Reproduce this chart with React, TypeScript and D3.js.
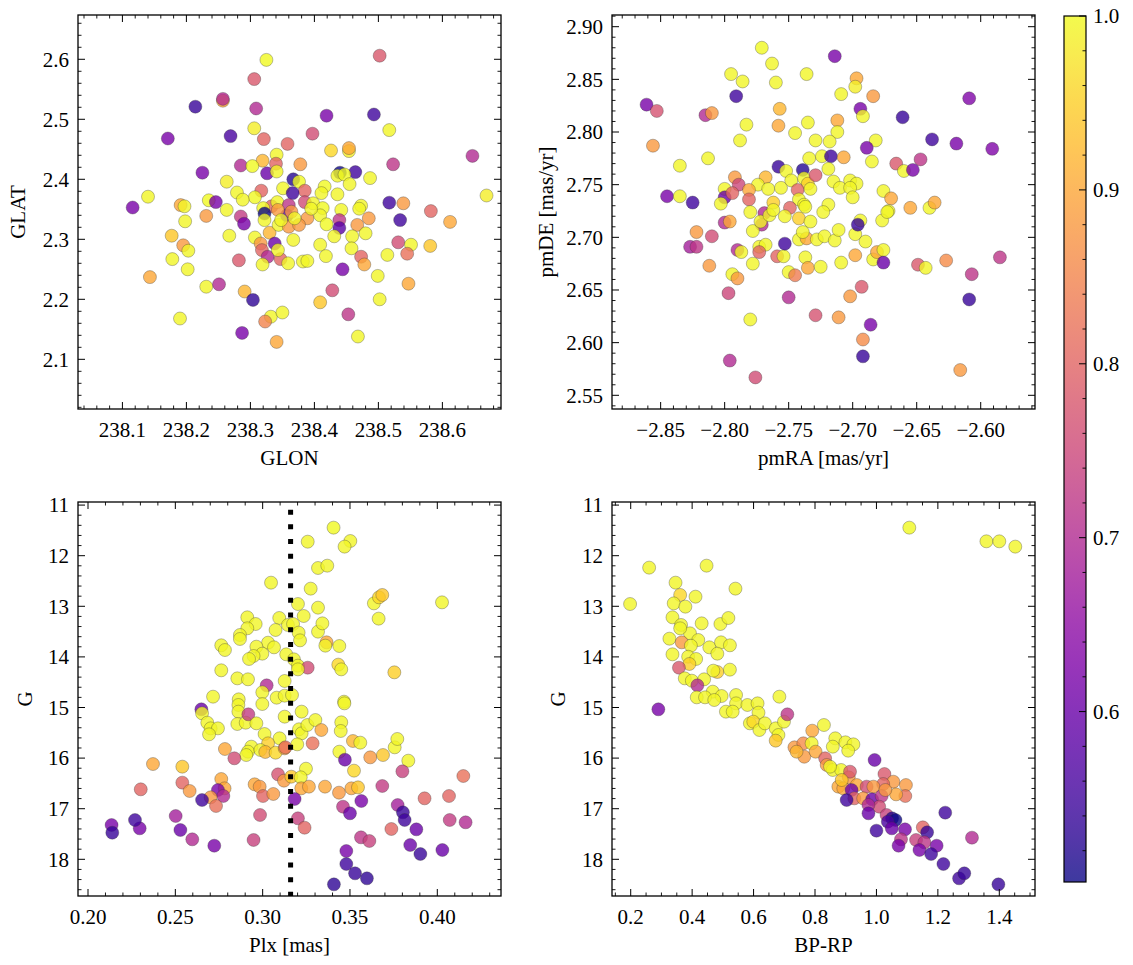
import React from 'react';
import * as d3 from 'd3';

// ---------- colour scale (membership probability) ----------
const VMIN = 0.502;
const VMAX = 1.0;
const cbTicks = [0.6, 0.7, 0.8, 0.9, 1.0];

// ---------- Panel 1: GLON vs GLAT ----------
const glon = [
  238.325, 238.502, 238.306, 238.257, 238.257, 238.214, 238.309, 238.419, 238.493, 238.517,
  238.306, 238.171, 238.269, 238.321, 238.397, 238.358, 238.426, 238.454, 238.454, 238.647,
  238.523, 238.341, 238.319, 238.340, 238.378, 238.285, 238.303, 238.326, 238.341, 238.225,
  238.440, 238.464, 238.436, 238.447, 238.487, 238.263, 238.367, 238.376, 238.455, 238.416,
  238.279, 238.317, 238.351, 238.385, 238.366, 238.411, 238.140, 238.307, 238.436, 238.669,
  238.288, 238.235, 238.246, 238.385, 238.517, 238.539, 238.116, 238.191, 238.197, 238.333,
  238.342, 238.360, 238.398, 238.413, 238.473, 238.582, 238.263, 238.442, 238.320,
  238.231, 238.198, 238.285, 238.290, 238.322, 238.357, 238.343, 238.364, 238.389, 238.409,
  238.419, 238.439, 238.439, 238.467, 238.485, 238.470, 238.534, 238.612, 238.177, 238.195,
  238.203, 238.178, 238.202, 238.143, 238.231, 238.251, 238.267, 238.307, 238.330, 238.344,
  238.360, 238.376, 238.367, 238.316, 238.338, 238.318, 238.327, 238.347, 238.343, 238.359,
  238.319, 238.282, 238.382, 238.389, 238.409, 238.418, 238.431, 238.459, 238.480, 238.458,
  238.473, 238.478, 238.514, 238.531, 238.551, 238.545, 238.581, 238.444, 238.499, 238.547,
  238.291, 238.304, 238.428, 238.502, 238.409, 238.190, 238.332, 238.350, 238.323, 238.453,
  238.287, 238.468, 238.341, 238.322, 238.395, 238.369, 238.348,
];
const glat = [
  2.599, 2.606, 2.567, 2.531, 2.534, 2.521, 2.518, 2.506, 2.508, 2.482,
  2.485, 2.468, 2.472, 2.467, 2.476, 2.459, 2.448, 2.447, 2.452, 2.439,
  2.425, 2.441, 2.431, 2.426, 2.425, 2.423, 2.422, 2.410, 2.413, 2.411,
  2.411, 2.412, 2.406, 2.408, 2.402, 2.396, 2.400, 2.396, 2.392, 2.388,
  2.378, 2.381, 2.385, 2.381, 2.377, 2.377, 2.371, 2.370, 2.375, 2.373,
  2.366, 2.365, 2.362, 2.362, 2.361, 2.360, 2.353, 2.357, 2.355, 2.355,
  2.362, 2.357, 2.360, 2.352, 2.356, 2.347, 2.349, 2.349, 2.352,
  2.339, 2.330, 2.338, 2.326, 2.343, 2.340, 2.349, 2.346, 2.335, 2.340,
  2.325, 2.332, 2.319, 2.324, 2.335, 2.351, 2.332, 2.329, 2.306, 2.290,
  2.281, 2.267, 2.250, 2.237, 2.221, 2.225, 2.306, 2.303, 2.311, 2.324,
  2.321, 2.324, 2.299, 2.293, 2.293, 2.282, 2.271, 2.267, 2.282, 2.260,
  2.258, 2.265, 2.263, 2.264, 2.291, 2.272, 2.305, 2.305, 2.310, 2.285,
  2.271, 2.258, 2.274, 2.295, 2.291, 2.276, 2.289, 2.250, 2.239, 2.226,
  2.213, 2.199, 2.215, 2.200, 2.195, 2.168, 2.171, 2.178, 2.163, 2.175,
  2.144, 2.138, 2.129, 2.332, 2.351, 2.335, 2.332,
];
const prob1 = [
  1.0, 0.78, 0.78, 0.90, 0.70, 0.54, 0.70, 0.62, 0.55, 0.995,
  0.985, 0.62, 0.56, 0.80, 0.76, 0.80, 0.96, 0.985, 0.90, 0.70,
  0.72, 0.995, 0.92, 0.80, 0.88, 0.70, 1.0, 0.60, 0.995, 0.62,
  0.50, 0.55, 0.995, 1.0, 0.995, 0.985, 0.52, 1.0, 0.995, 1.0,
  0.995, 0.80, 0.995, 0.80, 0.55, 0.995, 0.995, 1.0, 0.995, 0.985,
  0.995, 1.0, 0.62, 0.76, 0.55, 0.88, 0.62, 0.90, 0.995, 0.80,
  0.995, 0.72, 0.995, 1.0, 0.995, 0.80, 0.995, 0.995, 1.0,
  0.88, 0.995, 0.73, 0.62, 0.50, 0.60, 0.88, 0.88, 0.88, 0.995,
  1.0, 0.72, 0.58, 0.88, 0.88, 0.995, 0.55, 0.90, 0.94, 0.88,
  0.995, 0.995, 0.995, 0.90, 0.995, 0.70, 0.995, 0.995, 0.92, 0.995,
  0.88, 0.88, 0.995, 0.88, 0.60, 0.80, 0.70, 0.80, 0.995, 0.995,
  0.995, 0.78, 0.995, 0.995, 0.995, 0.995, 0.995, 0.995, 0.995, 0.995,
  0.80, 0.90, 0.995, 0.76, 0.995, 0.82, 0.94, 0.62, 0.995, 0.90,
  0.92, 0.53, 0.76, 0.995, 0.94, 0.995, 0.995, 0.995, 0.85, 0.72,
  0.62, 0.995, 0.90, 0.995, 0.995, 0.995, 0.995,
];
const glonTicks = [238.1, 238.2, 238.3, 238.4, 238.5, 238.6];
const glatTicks = [2.1, 2.2, 2.3, 2.4, 2.5, 2.6];

// ---------- Panel 2: pmRA vs pmDE ----------
const pmra = [
  -2.771, -2.714, -2.763, -2.795, -2.736, -2.786, -2.760, -2.697, -2.698, -2.709,
  -2.684, -2.791, -2.861, -2.853, -2.815, -2.810, -2.757, -2.694, -2.692, -2.661,
  -2.609, -2.783, -2.758, -2.735, -2.712, -2.856, -2.788, -2.745, -2.712, -2.729,
  -2.718, -2.682, -2.689, -2.638, -2.619, -2.591, -2.835, -2.813, -2.734, -2.724,
  -2.717, -2.707, -2.685, -2.666, -2.660, -2.647, -2.653, -2.758, -2.739, -2.752,
  -2.719, -2.768, -2.792, -2.789, -2.774, -2.766, -2.756, -2.748, -2.738, -2.735,
  -2.729, -2.743, -2.733, -2.715, -2.702, -2.697, -2.710, -2.702, -2.676, -2.670,
  -2.845, -2.835, -2.825, -2.800, -2.800, -2.803, -2.794, -2.781, -2.781, -2.762,
  -2.742, -2.738, -2.719, -2.700, -2.640, -2.636, -2.655, -2.672, -2.749, -2.769,
  -2.780, -2.723,
  -2.771, -2.778, -2.772, -2.765, -2.753, -2.742, -2.733, -2.737, -2.800, -2.796,
  -2.822, -2.810, -2.827, -2.822, -2.790, -2.787, -2.773, -2.768, -2.773, -2.778,
  -2.812, -2.794, -2.790, -2.759, -2.754, -2.753, -2.742, -2.736, -2.728, -2.722,
  -2.714, -2.711, -2.739, -2.737, -2.735, -2.725, -2.750, -2.745, -2.709, -2.698,
  -2.698, -2.694, -2.696, -2.690, -2.684, -2.681, -2.676, -2.676, -2.677, -2.673,
  -2.649, -2.643, -2.627, -2.607, -2.585, -2.609, -2.797, -2.750, -2.729, -2.711,
  -2.702, -2.693, -2.686, -2.692, -2.692, -2.780, -2.796, -2.776, -2.616, -2.762,
];
const pmde = [
  2.880, 2.872, 2.865, 2.855, 2.855, 2.848, 2.847, 2.851, 2.843, 2.836,
  2.834, 2.834, 2.826, 2.820, 2.816, 2.818, 2.822, 2.822, 2.815, 2.814,
  2.832, 2.807, 2.806, 2.809, 2.811, 2.787, 2.792, 2.799, 2.800, 2.792,
  2.791, 2.792, 2.785, 2.793, 2.789, 2.784, 2.768, 2.775, 2.775, 2.777,
  2.777, 2.776, 2.772, 2.770, 2.763, 2.774, 2.764, 2.767, 2.764, 2.763,
  2.765, 2.757, 2.757, 2.750, 2.750, 2.746, 2.747, 2.754, 2.756, 2.751,
  2.759, 2.745, 2.746, 2.753, 2.754, 2.751, 2.747, 2.747, 2.744, 2.737,
  2.739, 2.739, 2.733, 2.746, 2.738, 2.732, 2.742, 2.745, 2.736, 2.733,
  2.736, 2.731, 2.731, 2.738, 2.728, 2.733, 2.728, 2.725, 2.728, 2.723,
  2.724, 2.724,
  2.712, 2.706, 2.715, 2.721, 2.720, 2.718, 2.715, 2.729, 2.714, 2.715,
  2.705, 2.701, 2.691, 2.691, 2.688, 2.686, 2.691, 2.693, 2.686, 2.675,
  2.673, 2.665, 2.661, 2.682, 2.682, 2.694, 2.698, 2.699, 2.698, 2.701,
  2.697, 2.707, 2.705, 2.681, 2.671, 2.672, 2.667, 2.664, 2.676, 2.683,
  2.703, 2.716, 2.712, 2.696, 2.679, 2.686, 2.688, 2.676, 2.716, 2.724,
  2.674, 2.671, 2.678, 2.665, 2.681, 2.641, 2.647, 2.643, 2.626, 2.624,
  2.644, 2.653, 2.617, 2.603, 2.587, 2.622, 2.583, 2.567, 2.574, 2.726,
];
const prob2 = [
  1.0, 0.62, 0.995, 0.995, 0.995, 0.995, 0.995, 0.90, 0.985, 0.995,
  0.88, 0.55, 0.62, 0.77, 0.70, 0.88, 0.92, 0.62, 0.995, 0.54,
  0.63, 0.995, 0.90, 0.995, 0.90, 0.88, 0.995, 0.995, 0.995, 0.995,
  0.995, 0.995, 0.62, 0.55, 0.62, 0.63, 0.995, 0.995, 0.995, 0.995,
  0.55, 0.90, 0.995, 0.78, 0.995, 0.72, 0.62, 0.54, 0.52, 0.995,
  0.995, 0.92, 0.88, 0.75, 0.995, 0.995, 0.995, 0.995, 0.995, 0.95,
  0.78, 0.80, 0.995, 0.995, 0.995, 0.995, 0.995, 0.995, 0.995, 0.90,
  0.62, 0.995, 0.55, 0.995, 0.60, 0.995, 0.80, 0.90, 0.80, 0.95,
  0.995, 0.995, 0.995, 0.995, 0.995, 0.90, 0.90, 0.995, 0.80, 0.70,
  0.995, 0.995,
  0.70, 0.995, 0.995, 0.995, 0.995, 0.95, 0.995, 0.995, 0.70, 0.90,
  0.88, 0.76, 0.68, 0.72, 0.70, 0.995, 0.995, 0.995, 0.80, 0.995,
  0.88, 0.995, 0.88, 0.80, 0.995, 0.55, 0.995, 0.90, 0.995, 0.995,
  0.995, 0.995, 0.995, 0.995, 0.90, 0.995, 0.995, 0.84, 0.995, 0.90,
  0.995, 0.995, 0.54, 0.995, 0.995, 0.90, 0.995, 0.60, 0.995, 0.995,
  0.78, 0.995, 0.86, 0.72, 0.72, 0.54, 0.75, 0.70, 0.77, 0.88,
  0.88, 0.78, 0.62, 0.86, 0.54, 0.995, 0.70, 0.76, 0.88, 0.995,
];
const pmraTicks = [-2.85, -2.8, -2.75, -2.7, -2.65, -2.6];
const pmdeTicks = [2.55, 2.6, 2.65, 2.7, 2.75, 2.8, 2.85, 2.9];

// ---------- Panel 3: Plx vs G ----------
const PLX_REF = 0.316;
const PLX_LINE_TOP_G = 11.09;
const plx = [
  0.3406, 0.3258, 0.3502, 0.3469, 0.3317, 0.3370, 0.3048, 0.3275, 0.3202, 0.3317,
  0.3637, 0.3666, 0.3685, 0.4027, 0.3664, 0.3235, 0.2912, 0.2960, 0.2912, 0.3095,
  0.3074, 0.3145, 0.3174, 0.3206, 0.3317, 0.3342, 0.2870, 0.2870, 0.3214, 0.3031,
  0.3065, 0.2964, 0.2763, 0.2784, 0.2998, 0.2948, 0.2922, 0.3366, 0.3359, 0.3439,
  0.3135, 0.3179, 0.3202, 0.3258, 0.3202, 0.3433, 0.3450, 0.3754, 0.2763, 0.2855,
  0.2916, 0.3023, 0.3126, 0.2998, 0.2716, 0.2863, 0.3080, 0.3126, 0.3168, 0.3466,
  0.2861, 0.2998, 0.2649, 0.2653, 0.2683, 0.2702, 0.2744, 0.2693, 0.2861, 0.2855,
  0.2903, 0.2918, 0.2964, 0.3126, 0.3223, 0.3208, 0.3223, 0.3256, 0.3302, 0.3336,
  0.3468, 0.3450, 0.3447, 0.3011, 0.3097, 0.3031, 0.2935, 0.2916, 0.2906, 0.2987,
  0.3015, 0.3074, 0.3126, 0.3198, 0.3286, 0.2784, 0.2838, 0.2372, 0.2540, 0.2540,
  0.2582, 0.2302, 0.2763, 0.2782, 0.2744, 0.2775, 0.2702, 0.2733, 0.2653, 0.2954,
  0.2983, 0.3002, 0.3061, 0.3088, 0.3122, 0.3130, 0.3164, 0.3248, 0.3218, 0.3221,
  0.3265, 0.3357, 0.3437, 0.3508, 0.3546, 0.3523, 0.3517, 0.3559, 0.3439, 0.3471,
  0.3616, 0.3689, 0.3756, 0.3771, 0.3834, 0.3800, 0.4149, 0.3685, 0.3565, 0.3460,
  0.3500, 0.3773, 0.3803, 0.3813, 0.3927, 0.4067, 0.4071, 0.4162, 0.3737, 0.3880,
  0.3845, 0.3903, 0.4029, 0.3563, 0.3611, 0.3479, 0.3479, 0.3529, 0.3597, 0.3408,
  0.3183, 0.3202, 0.3240, 0.2985, 0.2948, 0.2723, 0.2597, 0.2529, 0.2502, 0.2296,
  0.2269, 0.2135, 0.2139,
];
const gmag3 = [
  11.446, 11.723, 11.710, 11.821, 12.243, 12.197, 12.533, 12.651, 12.955, 13.027,
  12.942, 12.823, 12.776, 12.922, 13.244, 13.192, 13.218, 13.350, 13.435, 13.231,
  13.468, 13.369, 13.350, 13.521, 13.501, 13.337, 13.567, 13.646, 13.673, 13.719,
  13.811, 13.798, 13.771, 13.864, 13.936, 13.982, 14.041, 13.712, 13.778, 13.785,
  13.949, 14.048, 14.173, 14.213, 14.246, 14.153, 14.246, 14.305, 14.265, 14.424,
  14.443, 14.562, 14.476, 14.700, 14.786, 14.839, 14.806, 14.766, 14.753, 14.885,
  14.950, 14.931, 15.036, 15.115, 15.300, 15.412, 15.412, 15.530, 15.082, 15.326,
  15.300, 15.135, 15.313, 15.181, 15.082, 15.431, 15.510, 15.346, 15.247, 15.445,
  14.918, 15.293, 15.464, 15.524, 15.609, 15.708, 15.774, 15.873, 15.939, 15.840,
  15.879, 15.893, 15.807, 15.728, 15.708, 15.820, 16.004, 16.117, 16.169, 16.485,
  16.650, 16.617, 16.413, 16.597, 16.630, 16.749, 16.775, 16.946, 16.828, 16.518,
  16.564, 16.749, 16.709, 16.321, 16.446, 15.787, 16.367, 16.209, 16.380, 16.597,
  16.564, 16.564, 16.683, 16.597, 16.578, 16.248, 15.662, 15.695, 15.873, 16.031,
  15.985, 15.939, 15.787, 15.622, 16.051, 16.261, 16.354, 16.551, 16.848, 16.960,
  17.091, 16.927, 17.072, 17.223, 16.795, 16.749, 17.223, 17.269, 17.401, 17.408,
  17.717, 17.895, 17.816, 17.566, 17.638, 17.836, 18.093, 18.277, 18.376, 18.495,
  16.808, 17.190, 17.375, 17.124, 17.618, 17.731, 17.605, 17.421, 17.144, 17.388,
  17.223, 17.322, 17.474,
];
const prob3 = [
  1.0, 0.995, 0.995, 0.995, 0.995, 0.995, 0.995, 0.995, 0.995, 0.995,
  0.995, 0.96, 0.94, 0.995, 0.995, 0.995, 0.995, 0.995, 0.995, 0.995,
  0.995, 0.995, 0.995, 0.995, 0.995, 0.995, 0.995, 0.995, 0.995, 0.995,
  0.995, 0.995, 0.995, 0.995, 0.995, 0.995, 0.995, 0.90, 0.995, 0.995,
  0.995, 0.995, 0.995, 0.76, 0.995, 0.96, 0.995, 0.95, 0.995, 0.995,
  0.995, 0.70, 0.995, 0.995, 0.995, 0.995, 0.995, 0.995, 0.995, 0.995,
  0.995, 0.995, 0.60, 0.995, 0.995, 0.995, 0.995, 0.995, 0.995, 0.995,
  0.995, 0.73, 0.995, 0.995, 0.995, 0.995, 0.995, 0.995, 0.995, 0.90,
  0.995, 0.995, 0.995, 0.995, 0.995, 0.95, 0.995, 0.995, 0.995, 0.995,
  0.92, 0.96, 0.90, 0.995, 0.82, 0.90, 0.76, 0.90, 0.94, 0.80,
  0.88, 0.80, 0.90, 0.90, 0.62, 0.70, 0.88, 0.82, 0.55, 0.90,
  0.88, 0.80, 0.88, 0.77, 0.88, 0.82, 0.94, 0.995, 0.995, 0.90,
  0.90, 0.90, 0.88, 0.90, 0.94, 0.96, 0.92, 0.995, 0.995, 0.60,
  0.88, 0.94, 0.995, 0.995, 0.995, 0.74, 0.82, 0.73, 0.62, 0.72,
  0.60, 0.68, 0.54, 0.55, 0.80, 0.80, 0.73, 0.70, 0.80, 0.60,
  0.60, 0.54, 0.60, 0.72, 0.74, 0.62, 0.55, 0.54, 0.53, 0.53,
  0.62, 0.74, 0.80, 0.76, 0.74, 0.62, 0.70, 0.60, 0.68, 0.62,
  0.55, 0.62, 0.54,
];
const plxTicks = [0.2, 0.25, 0.3, 0.35, 0.4];
const gTicks = [11, 12, 13, 14, 15, 16, 17, 18];

// ---------- Panel 4: BP-RP vs G ----------
const bprp = [
  1.107, 1.358, 1.400, 1.452, 0.260, 0.447, 0.198, 0.346, 0.541, 0.361,
  0.411, 0.340, 0.378, 0.336, 0.364, 0.431, 0.492, 0.518, 0.393, 0.361,
  0.326, 0.420, 0.366, 0.396, 0.456, 0.494, 0.523, 0.482, 0.336, 0.387,
  0.413, 0.391, 0.357, 0.482, 0.469, 0.523, 0.376, 0.399, 0.439, 0.417,
  0.467, 0.496, 0.543, 0.684, 0.415, 0.442,
  0.290, 0.472, 0.543, 0.510, 0.532, 0.580, 0.613, 0.616, 0.588, 0.599,
  0.619, 0.637, 0.672, 0.681, 0.672, 0.699, 0.710, 0.791, 0.829, 0.866,
  0.899, 0.925, 0.858, 0.908, 0.733, 0.762, 0.765, 0.740, 0.789, 0.802,
  0.833, 0.838, 0.858, 0.885, 0.910, 0.914, 0.994, 1.026, 1.055, 1.096,
  1.094, 1.064, 1.022, 0.876, 0.892, 0.936, 0.968, 0.990, 0.919, 0.928,
  0.903, 0.957, 0.986, 1.017, 1.009, 0.974, 0.974, 1.033, 1.051, 1.062,
  1.037, 1.050, 1.093, 1.000, 1.080, 1.072, 1.129, 1.151, 1.165, 1.156,
  1.196, 1.140, 1.178, 1.218, 1.224, 1.311, 1.269, 1.286, 1.397, 0.849,
  0.887, 1.029,
];
const gmag4 = [
  11.446, 11.716, 11.716, 11.821, 12.236, 12.197, 12.955, 12.533, 12.651, 12.776,
  12.810, 12.942, 13.007, 13.218, 13.369, 13.337, 13.350, 13.231, 13.534, 13.435,
  13.640, 13.666, 13.712, 13.778, 13.811, 13.712, 13.771, 13.936, 13.949, 13.996,
  14.041, 14.140, 14.213, 14.298, 14.272, 14.252, 14.424, 14.470, 14.443, 14.562,
  14.687, 14.773, 14.753, 14.786, 14.799, 14.799,
  15.036, 14.852, 14.918, 15.082, 15.082, 14.950, 14.918, 15.102, 15.313, 15.280,
  15.445, 15.313, 15.412, 15.543, 15.655, 15.280, 15.135, 15.458, 15.346, 15.609,
  15.688, 15.728, 15.774, 15.853, 15.787, 15.708, 15.972, 15.873, 15.708, 15.873,
  16.004, 16.136, 16.235, 16.235, 16.380, 16.268, 16.037, 16.314, 16.466, 16.532,
  16.749, 16.716, 16.512, 16.564, 16.597, 16.532, 16.564, 16.564, 16.630, 16.795,
  16.828, 16.795, 16.815, 16.749, 16.960, 16.927, 17.091, 17.124, 17.190, 17.223,
  17.256, 17.388, 17.408, 17.434, 17.605, 17.731, 17.618, 17.368, 17.467, 17.665,
  17.731, 17.816, 17.895, 18.093, 17.078, 17.572, 18.376, 18.277, 18.495, 16.169,
  16.433, 16.630,
];
const prob4 = [
  1.0, 0.995, 0.995, 0.995, 0.995, 0.995, 0.995, 0.995, 0.995, 0.96,
  0.995, 0.995, 0.995, 0.995, 0.995, 0.995, 0.995, 0.995, 0.995, 0.995,
  0.995, 0.995, 0.88, 0.995, 0.995, 0.995, 0.995, 0.995, 0.995, 0.995,
  0.995, 0.95, 0.78, 0.95, 0.995, 0.995, 0.995, 0.995, 0.995, 0.70,
  0.995, 0.995, 0.995, 0.995, 0.995, 0.995,
  0.62, 0.995, 0.995, 0.995, 0.995, 0.995, 0.995, 0.995, 0.995, 0.96,
  0.995, 0.995, 0.995, 0.995, 0.94, 0.995, 0.72, 0.90, 0.995, 0.995,
  0.995, 0.995, 0.995, 0.995, 0.88, 0.86, 0.88, 0.92, 0.995, 0.90,
  0.80, 0.88, 0.995, 0.995, 0.88, 0.78, 0.60, 0.78, 0.88, 0.88,
  0.82, 0.90, 0.80, 0.90, 0.90, 0.90, 0.76, 0.88, 0.60, 0.80,
  0.55, 0.88, 0.60, 0.72, 0.76, 0.70, 0.60, 0.74, 0.52, 0.50,
  0.56, 0.60, 0.62, 0.55, 0.72, 0.62, 0.74, 0.80, 0.54, 0.72,
  0.62, 0.62, 0.55, 0.55, 0.55, 0.70, 0.55, 0.54, 0.54, 0.995,
  0.94, 0.88,
];
const bprpTicks = [0.2, 0.4, 0.6, 0.8, 1.0, 1.2, 1.4];

// ---------- helpers ----------
const FONT = "'Liberation Serif', 'DejaVu Serif', serif";
const FS = 21;
const MAJ = 7;
const MIN = 3.5;
const colorOf = (p: number) => d3.interpolatePlasma((p - VMIN) / (VMAX - VMIN));
const fmtMinus = (s: string) => s.replace('-', '\u2212');

function minorTicks(domain: [number, number], step: number, majors: number[]) {
  const lo = Math.min(domain[0], domain[1]);
  const hi = Math.max(domain[0], domain[1]);
  const out: number[] = [];
  for (let k = Math.ceil(lo / step - 1e-9); k <= Math.floor(hi / step + 1e-9); k++) {
    const v = k * step;
    if (majors.some((m) => Math.abs(m - v) < step * 0.01)) continue;
    out.push(v);
  }
  return out;
}

type PanelProps = {
  frame: [number, number, number, number];
  xDomain: [number, number];
  yDomain: [number, number];
  xs: number[];
  ys: number[];
  ps: number[];
  xMajor: number[];
  xMinorStep: number;
  yMajor: number[];
  yMinorStep: number;
  xFmt: (v: number) => string;
  yFmt: (v: number) => string;
  xLabel: string;
  yLabel: string;
  yLabelX: number;
  extra?: (x: d3.ScaleLinear<number, number>, y: d3.ScaleLinear<number, number>) => React.ReactNode;
};

function Panel(props: PanelProps) {
  const { frame, xDomain, yDomain, xs, ys, ps, xMajor, xMinorStep, yMajor, yMinorStep, xFmt, yFmt, xLabel, yLabel, yLabelX, extra } = props;
  const [L, T, R, B] = frame;
  const x = d3.scaleLinear().domain(xDomain).range([L, R]);
  const y = d3.scaleLinear().domain(yDomain).range([B, T]);
  const xMin = minorTicks(xDomain, xMinorStep, xMajor);
  const yMin = minorTicks(yDomain, yMinorStep, yMajor);
  const xMajIn = xMajor.filter((v) => x(v) >= L - 0.5 && x(v) <= R + 0.5);
  const yMajIn = yMajor.filter((v) => y(v) >= T - 0.5 && y(v) <= B + 0.5);
  return (
    <g>
      {xs.map((xv, i) => (
        <circle
          key={i}
          cx={x(xv)}
          cy={y(ys[i])}
          r={6.5}
          fill={colorOf(ps[i])}
          fillOpacity={0.8}
          stroke="#333"
          strokeOpacity={0.55}
          strokeWidth={0.6}
        />
      ))}
      {extra ? extra(x, y) : null}
      <rect x={L} y={T} width={R - L} height={B - T} fill="none" stroke="#000" strokeWidth={1.3} />
      {xMajIn.map((v) => (
        <g key={'xM' + v}>
          <line x1={x(v)} x2={x(v)} y1={B} y2={B - MAJ} stroke="#000" strokeWidth={1} />
          <line x1={x(v)} x2={x(v)} y1={T} y2={T + MAJ} stroke="#000" strokeWidth={1} />
          <text x={x(v)} y={B + 27.5} textAnchor="middle" fontSize={FS} fontFamily={FONT}>{xFmt(v)}</text>
        </g>
      ))}
      {xMin.map((v) => (
        <g key={'xm' + v}>
          <line x1={x(v)} x2={x(v)} y1={B} y2={B - MIN} stroke="#000" strokeWidth={0.9} />
          <line x1={x(v)} x2={x(v)} y1={T} y2={T + MIN} stroke="#000" strokeWidth={0.9} />
        </g>
      ))}
      {yMajIn.map((v) => (
        <g key={'yM' + v}>
          <line x1={L} x2={L + MAJ} y1={y(v)} y2={y(v)} stroke="#000" strokeWidth={1} />
          <line x1={R} x2={R - MAJ} y1={y(v)} y2={y(v)} stroke="#000" strokeWidth={1} />
          <text x={L - 9} y={y(v)} dy="0.35em" textAnchor="end" fontSize={FS} fontFamily={FONT}>{yFmt(v)}</text>
        </g>
      ))}
      {yMin.map((v) => (
        <g key={'ym' + v}>
          <line x1={L} x2={L + MIN} y1={y(v)} y2={y(v)} stroke="#000" strokeWidth={0.9} />
          <line x1={R} x2={R - MIN} y1={y(v)} y2={y(v)} stroke="#000" strokeWidth={0.9} />
        </g>
      ))}
      <text x={(L + R) / 2} y={B + 56} textAnchor="middle" fontSize={FS} fontFamily={FONT}>{xLabel}</text>
      <text
        transform={`translate(${yLabelX},${(T + B) / 2}) rotate(-90)`}
        dy="0.35em"
        textAnchor="middle"
        fontSize={FS}
        fontFamily={FONT}
      >
        {yLabel}
      </text>
    </g>
  );
}

function Colorbar() {
  const L = 1064, R = 1086, T = 16, B = 882;
  const s = d3.scaleLinear().domain([VMIN, VMAX]).range([B, T]);
  const stops = d3.range(0, 1.0001, 0.05);
  const minors = minorTicks([VMIN, VMAX], 0.02, cbTicks);
  return (
    <g>
      <defs>
        <linearGradient id="cbgrad" x1="0" y1="1" x2="0" y2="0">
          {stops.map((t) => (
            <stop key={t} offset={t} stopColor={d3.interpolatePlasma(t)} stopOpacity={0.8} />
          ))}
        </linearGradient>
      </defs>
      <rect x={L} y={T} width={R - L} height={B - T} fill="url(#cbgrad)" stroke="#000" strokeWidth={1.2} />
      {cbTicks.map((v) => (
        <g key={'c' + v}>
          <line x1={R} x2={R - MAJ} y1={s(v)} y2={s(v)} stroke="#000" strokeWidth={1} />
          <text x={R + 7} y={s(v)} dy="0.35em" fontSize={FS} fontFamily={FONT}>{v.toFixed(1)}</text>
        </g>
      ))}
      {minors.map((v) => (
        <line key={'cm' + v} x1={R} x2={R - MIN} y1={s(v)} y2={s(v)} stroke="#000" strokeWidth={0.9} />
      ))}
    </g>
  );
}

export default function App() {
  const gDomain: [number, number] = [18.725, 10.939];
  return (
    <svg
      width={1133}
      height={965}
      viewBox="0 0 1133 965"
      style={{ position: 'absolute', left: 0, top: 0, background: '#fff' }}
    >
      <rect x={0} y={0} width={1133} height={965} fill="#fff" />
      <Panel
        frame={[78, 15, 501, 409]}
        xDomain={[238.0306, 238.6916]}
        yDomain={[2.0172, 2.6738]}
        xs={glon}
        ys={glat}
        ps={prob1}
        xMajor={glonTicks}
        xMinorStep={0.02}
        yMajor={glatTicks}
        yMinorStep={0.02}
        xFmt={(v) => v.toFixed(1)}
        yFmt={(v) => v.toFixed(1)}
        xLabel="GLON"
        yLabel="GLAT"
        yLabelX={18}
      />
      <Panel
        frame={[612, 15, 1035, 409]}
        xDomain={[-2.888, -2.5576]}
        yDomain={[2.537, 2.9111]}
        xs={pmra}
        ys={pmde}
        ps={prob2}
        xMajor={pmraTicks}
        xMinorStep={0.01}
        yMajor={pmdeTicks}
        yMinorStep={0.01}
        xFmt={(v) => fmtMinus(v.toFixed(2))}
        yFmt={(v) => v.toFixed(2)}
        xLabel="pmRA [mas/yr]"
        yLabel="pmDE [mas/yr]"
        yLabelX={546}
      />
      <Panel
        frame={[78, 502, 501, 896]}
        xDomain={[0.19427, 0.43647]}
        yDomain={gDomain}
        xs={plx}
        ys={gmag3}
        ps={prob3}
        xMajor={plxTicks}
        xMinorStep={0.01}
        yMajor={gTicks}
        yMinorStep={0.2}
        xFmt={(v) => v.toFixed(2)}
        yFmt={(v) => v.toFixed(0)}
        xLabel="Plx [mas]"
        yLabel="G"
        yLabelX={25}
        extra={(x, y) => (
          <line
            x1={x(PLX_REF)}
            x2={x(PLX_REF)}
            y1={y(PLX_LINE_TOP_G)}
            y2={y(gDomain[0])}
            stroke="#000"
            strokeWidth={5}
            strokeDasharray="5 9.7"
          />
        )}
      />
      <Panel
        frame={[612, 502, 1035, 896]}
        xDomain={[0.1391, 1.5162]}
        yDomain={gDomain}
        xs={bprp}
        ys={gmag4}
        ps={prob4}
        xMajor={bprpTicks}
        xMinorStep={0.05}
        yMajor={gTicks}
        yMinorStep={0.2}
        xFmt={(v) => v.toFixed(1)}
        yFmt={(v) => v.toFixed(0)}
        xLabel="BP-RP"
        yLabel="G"
        yLabelX={558}
      />
      <Colorbar />
    </svg>
  );
}
